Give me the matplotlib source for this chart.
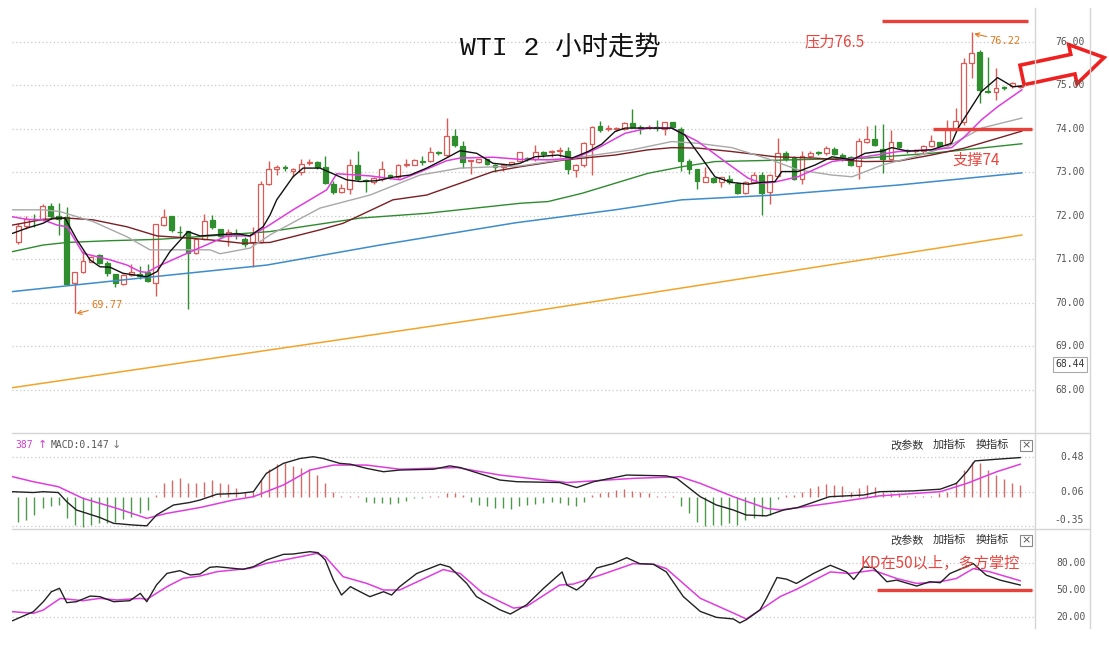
import matplotlib
matplotlib.use('Agg')
import matplotlib.pyplot as plt
import matplotlib.transforms as mtransforms
from matplotlib.patches import Polygon, Rectangle
from matplotlib.lines import Line2D
import numpy as np

plt.rcParams['font.family'] = ['Noto Sans CJK SC', 'DejaVu Sans']

# ---------------- data ----------------
opens = [71.39, 71.77, 71.94, 71.93, 72.22, 71.99, 71.97, 70.46, 70.70, 70.95,
         71.10, 70.91, 70.66, 70.43, 70.65, 70.66, 70.70, 70.46, 71.79, 71.99,
         71.64, 71.66, 71.15, 71.47, 71.91, 71.71, 71.53, 71.60, 71.47, 71.41,
         71.39, 72.73, 73.08, 73.13, 73.04, 73.02, 73.21, 73.23, 73.12, 72.74,
         72.54, 72.62, 73.17, 72.83, 72.79, 72.85, 72.93, 72.89, 73.16, 73.18,
         73.26, 73.27, 73.48, 73.39, 73.83, 73.60, 73.26, 73.23, 73.30, 73.16,
         73.12, 73.20, 73.27, 73.33, 73.31, 73.46, 73.46, 73.49, 73.50, 73.06,
         73.16, 73.66, 74.06, 74.00, 74.01, 74.00, 74.13, 74.05, 74.02, 74.05,
         74.00, 74.15, 74.00, 73.27, 73.08, 72.77, 72.87, 72.77, 72.85, 72.74,
         72.52, 72.77, 72.94, 72.54, 72.92, 73.45, 73.34, 72.84, 73.37, 73.47,
         73.45, 73.55, 73.41, 73.35, 73.15, 73.69, 73.77, 73.53, 73.30, 73.70,
         73.52, 73.49, 73.49, 73.60, 73.70, 73.64, 73.98, 74.15, 75.51, 75.78,
         74.88, 74.84, 74.96, 74.98, 74.97]
highs = [71.83, 71.99, 72.04, 72.27, 72.30, 72.30, 72.20, 70.70, 71.20, 71.08,
         71.12, 70.97, 70.66, 70.66, 70.89, 70.85, 70.89, 71.81, 72.17, 71.99,
         71.77, 71.66, 71.48, 72.04, 72.02, 71.71, 71.70, 71.71, 71.51, 71.74,
         72.81, 73.27, 73.17, 73.17, 73.10, 73.30, 73.31, 73.27, 73.37, 72.81,
         72.74, 73.30, 73.49, 72.85, 72.89, 73.27, 72.97, 73.20, 73.30, 73.31,
         73.37, 73.58, 73.50, 74.25, 73.99, 73.73, 73.29, 73.31, 73.31, 73.20,
         73.20, 73.25, 73.48, 73.36, 73.62, 73.50, 73.52, 73.58, 73.58, 73.20,
         73.69, 74.06, 74.18, 74.10, 74.05, 74.15, 74.46, 74.08, 74.10, 74.21,
         74.16, 74.17, 74.04, 73.31, 73.08, 73.12, 72.89, 72.90, 72.93, 72.77,
         72.80, 73.00, 73.00, 72.97, 73.79, 73.49, 73.37, 73.49, 73.50, 73.50,
         73.60, 73.58, 73.45, 73.37, 73.79, 74.06, 74.10, 74.11, 73.98, 73.71,
         73.55, 73.55, 73.64, 73.87, 73.71, 74.21, 74.48, 75.63, 76.22, 75.82,
         75.66, 75.40, 74.98, 75.08, 75.01]
lows = [71.35, 71.71, 71.74, 71.89, 71.94, 71.56, 70.41, 69.77, 70.69, 70.93,
        70.89, 70.62, 70.36, 70.42, 70.62, 70.55, 70.47, 70.16, 71.77, 71.62,
        71.51, 69.86, 71.13, 71.45, 71.70, 71.51, 71.31, 71.47, 71.28, 70.82,
        71.38, 72.72, 72.93, 73.04, 72.89, 72.93, 73.16, 73.08, 72.74, 72.51,
        72.53, 72.51, 72.81, 72.56, 72.74, 72.81, 72.85, 72.85, 73.12, 73.16,
        73.16, 73.23, 73.39, 73.35, 73.58, 73.10, 72.97, 73.22, 73.16, 73.00,
        73.04, 73.16, 73.26, 73.27, 73.27, 73.35, 73.35, 73.35, 72.97, 72.89,
        73.13, 72.93, 73.92, 73.95, 73.96, 73.98, 74.04, 73.89, 74.00, 73.96,
        73.85, 74.02, 73.04, 72.97, 72.62, 72.77, 72.75, 72.66, 72.74, 72.51,
        72.51, 72.77, 72.01, 72.28, 72.90, 73.26, 72.82, 72.73, 73.34, 73.40,
        73.41, 73.40, 73.26, 73.15, 72.84, 73.68, 73.60, 72.99, 73.28, 73.56,
        73.45, 73.45, 73.45, 73.59, 73.58, 73.63, 73.97, 74.10, 75.17, 74.60,
        74.82, 74.67, 74.90, 74.94, 74.95]
closes = [71.77, 71.94, 71.92, 72.22, 71.99, 71.94, 70.43, 70.70, 70.97, 71.06,
          70.92, 70.69, 70.46, 70.65, 70.72, 70.62, 70.51, 71.81, 71.97, 71.68,
          71.62, 71.15, 71.47, 71.89, 71.74, 71.54, 71.64, 71.57, 71.35, 71.58,
          72.73, 73.09, 73.12, 73.10, 73.08, 73.20, 73.23, 73.12, 72.76, 72.56,
          72.64, 73.17, 72.85, 72.80, 72.87, 73.08, 72.90, 73.17, 73.19, 73.29,
          73.23, 73.48, 73.45, 73.83, 73.62, 73.25, 73.28, 73.30, 73.20, 73.13,
          73.17, 73.23, 73.46, 73.30, 73.46, 73.43, 73.50, 73.52, 73.08, 73.16,
          73.67, 74.05, 73.98, 74.03, 74.03, 74.13, 74.05, 74.02, 74.05, 74.02,
          74.15, 74.04, 73.27, 73.08, 72.80, 72.89, 72.77, 72.89, 72.77, 72.52,
          72.77, 72.95, 72.53, 72.93, 73.45, 73.30, 72.84, 73.37, 73.45, 73.45,
          73.56, 73.43, 73.30, 73.18, 73.73, 73.77, 73.63, 73.30, 73.70, 73.59,
          73.49, 73.52, 73.60, 73.72, 73.60, 73.98, 74.18, 75.51, 75.74, 74.90,
          74.85, 74.95, 74.94, 75.05, 74.99]

# moving averages: (candle index, price) pairs
ma5_x = [-0.7, 1.08, 3.06, 4.29, 5.78, 7.26, 8.87, 10.11, 11.35, 12.96, 15.93, 17.17, 18.77, 21.0,
         22.49, 24.1, 27.07, 28.68, 30.29, 31.15, 31.98, 34.0, 35.24, 37.34, 38.95, 40.64, 42.29,
         44.36, 46.37, 48.48, 50.54, 52.56, 54.67, 56.73, 58.75, 60.85, 62.09, 63.95, 66.79, 68.53,
         70.51, 72.2, 73.85, 75.09, 77.93, 80.87, 82.51, 84.58, 86.22, 88.29, 90.31, 92.0, 93.65,
         94.48, 96.5, 98.6, 100.7, 103.2, 104.8, 106.9, 108.1, 110.1, 113.0, 115.5, 116.3, 117.1,
         119.2, 121.2, 123.1, 124.2]
ma5_y = [71.60, 71.72, 71.83, 71.95, 71.95, 71.45, 70.99, 70.83, 70.82, 70.68, 70.60, 70.72, 71.18,
         71.64, 71.54, 71.56, 71.59, 71.54, 71.75, 72.02, 72.37, 72.90, 73.10, 73.10, 72.97, 72.83,
         72.79, 72.81, 72.89, 72.94, 73.10, 73.29, 73.50, 73.44, 73.21, 73.17, 73.21, 73.36, 73.40,
         73.33, 73.48, 73.65, 73.94, 74.02, 74.02, 74.02, 73.86, 73.33, 72.90, 72.77, 72.73, 72.77,
         72.79, 73.02, 73.02, 73.17, 73.36, 73.29, 73.44, 73.49, 73.57, 73.49, 73.52, 73.67, 74.02,
         74.25, 74.86, 75.18, 74.97, 74.99]
ma10_x = [-0.7, 1.08, 3.06, 4.79, 6.03, 8.01, 11.35, 13.45, 15.06, 15.93, 17.17, 20.88, 23.73, 25.83,
          28.68, 30.74, 34.0, 38.17, 39.41, 43.53, 47.24, 49.31, 53.02, 54.67, 58.75, 62.09, 65.56,
          68.9, 71.74, 75.09, 77.93, 80.87, 84.12, 87.46, 90.31, 92.0, 93.65, 96.5, 100.7, 104.8,
          108.9, 113.0, 115.5, 117.1, 119.2, 121.2, 124.2]
ma10_y = [71.98, 71.92, 71.91, 71.79, 71.75, 71.14, 70.99, 70.87, 70.72, 70.70, 70.83, 71.14, 71.37,
          71.54, 71.54, 71.75, 72.14, 72.60, 72.97, 72.92, 72.83, 72.98, 73.27, 73.33, 73.35, 73.30,
          73.29, 73.33, 73.56, 73.90, 74.02, 74.02, 73.71, 73.25, 72.87, 72.75, 72.78, 72.90, 73.25,
          73.36, 73.48, 73.52, 73.57, 73.82, 74.21, 74.51, 74.90]
ma20_x = [-0.7, 3.06, 5.16, 9.25, 13.45, 16.3, 19.64, 23.73, 24.96, 28.68, 31.3, 37.34, 43.53, 49.72,
          54.67, 62.09, 69.77, 75.95, 80.87, 84.12, 88.33, 93.0, 96.5, 100.7, 103.2, 106.9, 110.9,
          115.0, 119.2, 124.2]
ma20_y = [72.14, 72.14, 72.10, 71.87, 71.52, 71.22, 71.22, 71.22, 71.13, 71.26, 71.58, 72.18, 72.48,
          72.94, 73.10, 73.15, 73.36, 73.52, 73.71, 73.67, 73.57, 73.30, 73.06, 72.94, 72.90, 73.17,
          73.36, 73.59, 74.02, 74.25]
ma30_x = [-0.7, 3.06, 6.03, 9.25, 13.45, 17.17, 19.64, 23.73, 27.81, 31.15, 37.34, 40.19, 46.37,
          50.54, 54.67, 58.75, 62.09, 67.66, 73.85, 77.93, 80.87, 84.12, 88.33, 93.65, 98.6, 104.8,
          108.9, 113.0, 117.1, 124.2]
ma30_y = [71.79, 71.92, 71.95, 71.91, 71.75, 71.54, 71.51, 71.45, 71.37, 71.39, 71.68, 71.83, 72.37,
          72.48, 72.75, 73.02, 73.13, 73.29, 73.40, 73.52, 73.57, 73.56, 73.48, 73.36, 73.33, 73.25,
          73.26, 73.40, 73.56, 73.95]
ma60_x = [-0.7, 3.06, 6.03, 11.35, 17.17, 23.73, 31.15, 42.29, 50.54, 62.09, 65.56, 69.77, 73.85,
          77.93, 82.1, 86.22, 93.65, 104.8, 113.0, 117.1, 124.2]
ma60_y = [71.18, 71.33, 71.39, 71.43, 71.46, 71.54, 71.64, 71.95, 72.06, 72.29, 72.33, 72.52, 72.75,
          72.98, 73.13, 73.25, 73.28, 73.33, 73.44, 73.52, 73.66]
ma120_x = [-0.7, 16.67, 30.78, 44.77, 61.47, 73.85, 82.1, 93.65, 108.9, 124.2]
ma120_y = [70.26, 70.60, 70.87, 71.33, 71.84, 72.14, 72.37, 72.48, 72.71, 72.99]
ma250_x = [-0.7, 62.0, 124.2]
ma250_y = [68.05, 69.76, 71.56]

price_ticks = [76, 75, 74, 73, 72, 71, 70, 69, 68]

# MACD histogram (one bar per candle) and DIF / DEA lines
macd_hist = [-0.30, -0.28, -0.22, -0.14, -0.11, -0.10, -0.26, -0.34, -0.36, -0.34,
             -0.32, -0.32, -0.30, -0.27, -0.24, -0.20, -0.16, 0.02, 0.16, 0.20,
             0.22, 0.16, 0.16, 0.18, 0.20, 0.17, 0.15, 0.10, 0.06, 0.06,
             0.20, 0.33, 0.39, 0.40, 0.37, 0.35, 0.33, 0.26, 0.16, 0.06,
             0.01, 0.005, 0.004, -0.06, -0.08, -0.08, -0.09, -0.07, -0.05, -0.02,
             -0.01, 0.005, 0.01, 0.05, 0.04, 0.02, -0.06, -0.10, -0.11, -0.14,
             -0.14, -0.15, -0.11, -0.10, -0.09, -0.07, -0.06, -0.08, -0.10, -0.11,
             -0.06, 0.02, 0.04, 0.06, 0.08, 0.09, 0.07, 0.06, 0.04, 0.01,
             0.01, 0.004, -0.11, -0.20, -0.30, -0.35, -0.34, -0.34, -0.32, -0.34,
             -0.28, -0.25, -0.23, -0.22, -0.03, 0.02, 0.02, 0.06, 0.10, 0.13,
             0.15, 0.14, 0.13, 0.06, 0.11, 0.14, 0.12, 0.06, 0.04, 0.04,
             0.01, 0.01, 0.01, 0.01, 0.04, 0.06, 0.18, 0.32, 0.42, 0.40,
             0.32, 0.26, 0.21, 0.17, 0.14]
dif_x = [-0.7, 1.86, 3.1, 4.95, 5.99, 7.2, 10.1, 11.8, 14.2, 15.9, 17.1, 19.2, 21.2, 22.5, 24.6, 27.4,
         29.1, 30.7, 32.8, 34.9, 36.5, 37.7, 39.8, 41.1, 43.1, 45.2, 47.2, 51.4, 53.4, 54.7, 59.6,
         61.7, 67.0, 69.1, 71.2, 75.3, 80.2, 81.5, 84.4, 86.4, 88.5, 90.1, 92.6, 94.7, 96.5, 100.4,
         104.6, 106.6, 110.8, 114.1, 116.1, 117.4, 118.4, 121.1, 124.0]
dif_y = [0.06, 0.05, 0.06, 0.05, -0.06, -0.16, -0.25, -0.32, -0.34, -0.35, -0.22, -0.10, -0.07,
         -0.04, 0.03, 0.04, 0.06, 0.28, 0.40, 0.46, 0.48, 0.46, 0.40, 0.39, 0.34, 0.30, 0.32, 0.33,
         0.37, 0.35, 0.20, 0.18, 0.17, 0.11, 0.18, 0.26, 0.25, 0.22, 0.0, -0.10, -0.16, -0.22,
         -0.23, -0.16, -0.13, 0.0, 0.02, 0.06, 0.07, 0.09, 0.16, 0.30, 0.43, 0.45, 0.47]
dea_x = [-0.7, 1.86, 4.95, 8.0, 12.2, 15.9, 18.4, 22.5, 26.6, 29.1, 32.8, 36.1, 39.0, 43.1, 47.2,
         54.3, 59.6, 67.9, 76.1, 81.9, 84.4, 88.5, 92.6, 94.3, 100.4, 106.6, 114.1, 117.4, 121.1,
         124.0]
dea_y = [0.24, 0.18, 0.12, -0.02, -0.14, -0.26, -0.20, -0.13, -0.04, 0.0, 0.14, 0.32, 0.38, 0.38,
         0.33, 0.35, 0.26, 0.17, 0.22, 0.24, 0.16, 0.0, -0.14, -0.16, -0.08, 0.01, 0.06, 0.16, 0.30,
         0.39]
macd_ticks = [0.48, 0.06, -0.35]

# KD
k_x = [-0.7, 1.86, 3.1, 4.1, 5.1, 6.0, 7.2, 8.9, 10.1, 11.8, 13.8, 15.1, 15.9, 17.1, 18.4, 20.0,
       21.3, 22.5, 23.7, 24.6, 27.8, 29.1, 30.7, 32.8, 34.0, 36.1, 37.1, 38.0, 39.0, 40.0, 41.1,
       42.3, 43.5, 45.2, 46.2, 47.2, 49.3, 52.2, 53.4, 55.5, 56.7, 59.6, 60.9, 62.9, 65.0, 67.3,
       67.9, 69.1, 69.9, 71.6, 73.6, 75.3, 76.9, 78.6, 80.2, 82.3, 84.4, 86.4, 88.5, 89.3, 90.1,
       91.8, 92.6, 93.9, 95.1, 96.3, 98.4, 100.5, 102.5, 103.4, 104.6, 105.8, 107.5, 108.7, 111.2,
       112.8, 114.1, 115.3, 118.2, 119.8, 121.5, 124.0]
k_y = [15.9, 25.9, 37.0, 48.1, 51.9, 35.9, 37.0, 43.3, 42.6, 37.0, 38.1, 46.3, 37.0, 55.6, 68.5, 71.5,
       66.7, 67.8, 75.2, 75.9, 73.0, 75.9, 83.3, 89.6, 90.0, 92.6, 91.5, 83.3, 61.1, 44.4, 53.7,
       48.1, 42.6, 48.1, 44.4, 53.7, 68.3, 78.6, 75.6, 57.3, 42.7, 28.0, 23.3, 33.5, 51.8, 70.1,
       55.5, 50.0, 55.5, 74.5, 79.3, 85.9, 79.3, 78.6, 70.1, 42.7, 26.2, 19.6, 17.8, 13.4, 17.0,
       28.0, 40.8, 63.9, 62.0, 57.3, 68.3, 77.5, 70.1, 61.7, 75.6, 74.9, 59.2, 61.0, 54.4, 59.2,
       58.1, 68.3, 79.3, 66.5, 61.0, 55.5]
d_x = [-0.7, 1.86, 3.1, 5.2, 8.0, 10.1, 12.2, 15.1, 15.9, 18.4, 20.4, 22.5, 24.6, 28.7, 30.7, 34.9,
       36.9, 38.0, 40.2, 43.1, 45.2, 47.2, 52.6, 54.7, 57.5, 61.3, 62.9, 67.0, 68.7, 72.0, 76.1,
       78.6, 80.2, 84.4, 88.5, 90.1, 92.6, 94.3, 96.3, 100.5, 102.9, 105.8, 108.7, 111.2, 114.1,
       116.1, 118.2, 120.3, 124.0]
d_y = [25.9, 24.1, 27.8, 40.7, 38.1, 40.7, 38.9, 40.7, 39.6, 53.7, 63.0, 65.6, 70.4, 74.1, 79.6, 87.0,
       90.7, 87.0, 64.8, 57.4, 50.0, 50.0, 72.7, 68.3, 46.3, 29.9, 31.7, 55.5, 56.6, 66.5, 79.3,
       78.6, 73.8, 40.8, 24.4, 17.8, 32.4, 42.7, 50.7, 70.1, 68.3, 72.0, 62.8, 57.3, 59.2, 62.8,
       73.8, 70.1, 60.3]
kd_ticks = [80, 50, 20]

# ---------------- figure ----------------
W, H = 1109, 656
fig = plt.figure(figsize=(W / 100, H / 100), dpi=100)
fig.patch.set_facecolor('white')


def rect(x0, y0, x1, y1):
    return [x0 / W, 1 - y1 / H, (x1 - x0) / W, (y1 - y0) / H]


def fx(x):
    return x / W


def fy(y):
    return 1 - y / H


XL = (-0.78, 125.83)
ax = fig.add_axes(rect(12, 10, 1035, 432))
axm = fig.add_axes(rect(12, 434, 1035, 528))
axk = fig.add_axes(rect(12, 530, 1035, 625))
for a in (ax, axm, axk):
    a.set_xlim(*XL)
    a.axis('off')
ax.set_ylim(67.03, 76.736)
axm.set_ylim(-0.376, 0.753)
axk.set_ylim(11.1, 116.7)

RED = '#db5a56'
GREEN = '#2f8f2f'
GRID = '#c9c9c9'
NOTE = '#e6463f'

# grids
ax.hlines(price_ticks, XL[0], XL[1], colors=GRID, linestyles=(0, (1, 2)), lw=0.9, zorder=1)
axm.hlines(macd_ticks, XL[0], XL[1], colors=GRID, linestyles=(0, (1, 2)), lw=0.9, zorder=1)
axk.hlines(kd_ticks, XL[0], XL[1], colors=GRID, linestyles=(0, (1, 2)), lw=0.9, zorder=1)

# candles
o = np.array(opens); h = np.array(highs); l = np.array(lows); c = np.array(closes)
idx = np.arange(len(o))
up = c >= o
ccol = np.where(up, RED, GREEN)
ax.vlines(idx, l, h, colors=ccol, lw=1.0, zorder=3)
bb = np.minimum(o, c)
bh = np.maximum(np.abs(c - o), 0.012)
ax.bar(idx, bh, bottom=bb, width=0.6, color=np.where(up, 'white', GREEN),
       edgecolor=ccol, linewidth=0.9, zorder=4)

# moving averages
ax.plot(ma250_x, ma250_y, color='#f2a428', lw=1.1, zorder=5)
ax.plot(ma120_x, ma120_y, color='#3d8ccb', lw=1.1, zorder=5)
ax.plot(ma60_x, ma60_y, color='#2e8b2e', lw=1.0, zorder=5)
ax.plot(ma30_x, ma30_y, color='#7b1f24', lw=1.0, zorder=5)
ax.plot(ma20_x, ma20_y, color='#a8a8a8', lw=1.0, zorder=5)
ax.plot(ma10_x, ma10_y, color='#e03ce0', lw=1.1, zorder=6)
ax.plot(ma5_x, ma5_y, color='#111111', lw=1.0, zorder=7)

# price labels on the right
tr_main = mtransforms.blended_transform_factory(fig.transFigure, ax.transData)
for t in price_ticks:
    ax.text(fx(1085), t, f'{t:.2f}', transform=tr_main, ha='right', va='center',
            fontsize=7, color='#555555', family='DejaVu Sans Mono', zorder=12)
ax.text(fx(1085), 68.59, '68.44', transform=tr_main, ha='right', va='center',
        fontsize=7, color='#333333', family='DejaVu Sans Mono',
        bbox=dict(boxstyle='square,pad=0.25', fc='white', ec='#aaaaaa', lw=0.8))

# extreme annotations
ax.annotate('76.22', xy=(118.3, 76.19), xytext=(120.2, 76.03), fontsize=7.5,
            color='#e07a20', family='DejaVu Sans Mono', va='center', ha='left',
            arrowprops=dict(arrowstyle='->', color='#e07a20', lw=0.8, shrinkA=0, shrinkB=0))
ax.annotate('69.77', xy=(7.2, 69.75), xytext=(9.0, 69.94), fontsize=7.5,
            color='#e07a20', family='DejaVu Sans Mono', va='center', ha='left',
            arrowprops=dict(arrowstyle='->', color='#e07a20', lw=0.8, shrinkA=0, shrinkB=0))

# resistance / support lines
ax.hlines([76.48], 106.9, 124.96, colors='#e8403a', lw=2.4, zorder=8)
ax.hlines([74.0], 113.2, 125.5, colors='#e8403a', lw=2.4, zorder=8)
ax.text(97.3, 76.0, '压力76.5', color=NOTE, fontsize=11, va='center', ha='left', zorder=9)
ax.text(115.6, 73.27, '支撑74', color=NOTE, fontsize=11, va='center', ha='left', zorder=9)

# title
fig.text(fx(560), fy(47), 'WTI 2 小时走势', ha='center', va='center', fontsize=19,
         color='#111111', family=['Liberation Mono', 'Noto Sans CJK SC'])

# MACD panel
hist = np.array(macd_hist)
axm.vlines(idx, 0, hist, colors=np.where(hist >= 0, '#d46a6a', '#4d9a4d'), lw=1.0, zorder=2)
axm.plot(dif_x, dif_y, color='#222222', lw=1.0, zorder=4)
axm.plot(dea_x, dea_y, color='#e03ce0', lw=1.1, zorder=3)
tr_m = mtransforms.blended_transform_factory(fig.transFigure, axm.transData)
for t in macd_ticks:
    ty = t if t > 0 else t + 0.07   # bottom label sits a little above its line
    axm.text(fx(1084), ty, f'{t:.2f}', transform=tr_m, ha='right',
             va='center', fontsize=7, color='#555555', family='DejaVu Sans Mono')

fig.text(fx(15), fy(445), '387', color='#d040d0', fontsize=7, family='DejaVu Sans Mono', va='center')
fig.text(fx(38), fy(445), '↑', color='#d040d0', fontsize=8, family='DejaVu Sans', va='center')
fig.text(fx(51), fy(445), 'MACD:0.147', color='#555555', fontsize=7, family='DejaVu Sans Mono', va='center')
fig.text(fx(112), fy(445), '↓', color='#777777', fontsize=8, family='DejaVu Sans', va='center')

# KD panel
axk.plot(k_x, k_y, color='#222222', lw=1.0, zorder=4)
axk.plot(d_x, d_y, color='#e03ce0', lw=1.1, zorder=3)
tr_k = mtransforms.blended_transform_factory(fig.transFigure, axk.transData)
for t in kd_ticks:
    axk.text(fx(1086), t, f'{t:.2f}', transform=tr_k, ha='right', va='center',
             fontsize=7, color='#555555', family='DejaVu Sans Mono')
axk.hlines([50], 106.3, 125.5, colors='#e8403a', lw=2.4, zorder=8)
axk.text(104.2, 80, 'KD在50以上，多方掌控', color=NOTE, fontsize=11, va='center',
         ha='left', zorder=9)

# panel headers
for yy in (445, 540):
    for xx, s in ((890, '改参数'), (933, '加指标'), (976, '换指标')):
        fig.text(fx(xx), fy(yy), s, fontsize=8, color='#333333', va='center', ha='left')
    fig.patches.append(Rectangle((fx(1020), fy(yy + 6)), 12 / W, 11 / H, transform=fig.transFigure,
                                 fill=False, ec='#888888', lw=0.8))
    fig.text(fx(1026), fy(yy + 0.5), '×', fontsize=8, color='#555555', va='center', ha='center',
             family='DejaVu Sans')

# frame lines
for x in (1035, 1090):
    fig.add_artist(Line2D([fx(x), fx(x)], [fy(8), fy(628)], color='#d5d5d5', lw=1))
for y in (433, 529):
    fig.add_artist(Line2D([fx(12), fx(1090)], [fy(y), fy(y)], color='#d5d5d5', lw=1))

# red block arrow (outline) at the right edge, drawn beneath the axis labels
ang = np.deg2rad(12)
shape = np.array([[0, -10], [52, -10], [52, -20], [84, 0], [52, 20], [52, 10], [0, 10]], float)
R = np.array([[np.cos(ang), np.sin(ang)], [-np.sin(ang), np.cos(ang)]])
pts = shape @ R.T
pts[:, 0] += 1022
pts[:, 1] += 75
poly = Polygon([(fx(px), fy(py)) for px, py in pts], closed=True, transform=fig.transFigure,
               fc='white', ec='#ee2020', lw=2.6, zorder=-1)
fig.patches.append(poly)

fig.savefig('out.png', dpi=100, facecolor='white')
